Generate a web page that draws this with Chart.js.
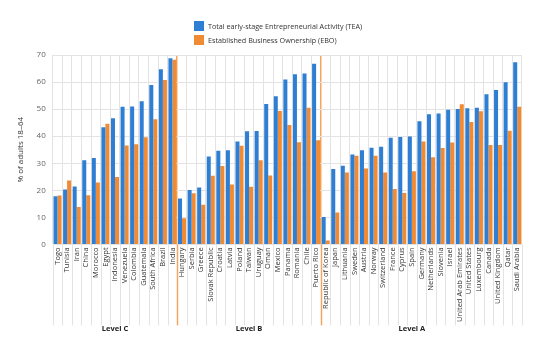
<!DOCTYPE html>
<html>
<head>
<meta charset="utf-8">
<script src="https://cdn.jsdelivr.net/npm/chart.js@4"></script>
<style>
  body { margin: 0; background: #fff; }
  #wrap { position: relative; width: 550px; height: 338px; }
  #legend { position: absolute; left: 194px; top: 19px; font: 7.2px 'Open Sans', sans-serif; color: #333; }
  .item { display: flex; align-items: center; height: 14px; }
  .box { width: 10px; height: 10px; margin-right: 4px; }
</style>
</head>
<body>
<div id="wrap">
  <canvas id="chart"></canvas>
  <div id="legend"></div>
</div>
<script>
// Data
const countries = ['Togo', 'Tunisia', 'Iran', 'China', 'Morocco', 'Egypt', 'Indonesia', 'Venezuela', 'Colombia',
  'Guatemala', 'South Africa', 'Brazil', 'India',
  'Hungary', 'Serbia', 'Greece', 'Slovak Republic', 'Croatia', 'Latvia', 'Poland', 'Taiwan', 'Uruguay', 'Oman',
  'Mexico', 'Panama', 'Romania', 'Chile', 'Puerto Rico',
  'Republic of Korea', 'Japan', 'Lithuania', 'Sweden', 'Austria', 'Norway', 'Switzerland', 'France', 'Cyprus',
  'Spain', 'Germany', 'Netherlands', 'Slovenia', 'Israel', 'United Arab Emirates', 'United States', 'Luxembourg',
  'Canada', 'United Kingdom', 'Qatar', 'Saudi Arabia'];

const tea = [17.8, 20.3, 21.4, 31.1, 31.9, 43.3, 46.6, 50.9, 51.0, 52.9, 58.9, 64.7, 68.8,
  17.0, 20.1, 21.0, 32.5, 34.6, 34.8, 38.0, 41.8, 41.9, 51.9, 54.8, 60.9, 62.9, 63.2, 66.8,
  10.1, 27.9, 29.1, 33.2, 34.8, 35.7, 36.1, 39.4, 39.7, 39.9, 45.5, 48.1, 48.4, 49.8, 50.0, 50.3, 50.5,
  55.5, 57.1, 59.9, 67.3];

const ebo = [18.1, 23.6, 13.8, 18.2, 22.9, 44.6, 24.9, 36.6, 37.0, 39.6, 46.3, 60.8, 68.2,
  9.7, 18.9, 14.7, 25.4, 29.0, 22.1, 36.5, 21.3, 31.1, 25.5, 49.3, 44.1, 37.8, 50.5, 38.5,
  1.4, 11.8, 26.6, 32.8, 28.1, 32.8, 26.6, 20.5, 19.0, 27.0, 38.0, 32.2, 35.6, 37.7, 51.8, 45.2, 49.2,
  36.7, 36.7, 42.0, 50.9];

const seriesNames = ['Total early-stage Entrepreneurial Activity (TEA)', 'Established Business Ownership (EBO)'];
const yTicks = [0, 10, 20, 30, 40, 50, 60, 70];
const levelNames = ['Level C', 'Level B', 'Level A'];
const levelCenters = [6, 20, 37];      // category index under which each level label sits
const separators = [13, 28];          // first category of each new level

const BLUE = '#2e7fd3';
const ORANGE = '#f08a33';
const SEP = '#f3a562';
const GRID = '#e3e3e3';
const FONT = "'Open Sans', sans-serif";

// html legend
document.getElementById('legend').innerHTML = seriesNames.map((name, i) =>
  `<div class="item"><span class="box" style="background:${i ? ORANGE : BLUE}"></span>${name}</div>`).join('');

// category boundary lines carried down through the label area, plus level names
const levelLabels = {
  id: 'levelLabels',
  beforeDatasetsDraw(chart) {
    const x = chart.scales.x;
    const ctx = chart.ctx;
    const half = (x.getPixelForValue(1) - x.getPixelForValue(0)) / 2;
    ctx.save();
    for (let i = 0; i <= countries.length; i++) {
      const px = Math.round(x.getPixelForValue(i) - half) + 0.5;
      const sep = separators.includes(i);
      ctx.strokeStyle = sep ? SEP : GRID;
      ctx.lineWidth = sep ? 1.5 : 1;
      ctx.beginPath();
      ctx.moveTo(px, x.top);
      ctx.lineTo(px, x.top + 81);
      ctx.stroke();
    }
    ctx.restore();
  },
  afterDraw(chart) {
    const x = chart.scales.x;
    const ctx = chart.ctx;
    ctx.save();
    ctx.font = `bold 7.5px ${FONT}`;
    ctx.fillStyle = '#222';
    ctx.textAlign = 'center';
    ctx.textBaseline = 'middle';
    levelNames.forEach((name, i) => {
      ctx.fillText(name, x.getPixelForValue(levelCenters[i]), x.top + 84);
    });
    ctx.restore();
  }
};

const sepColor = ctx => separators.includes(ctx.index) ? SEP : GRID;
const sepWidth = ctx => separators.includes(ctx.index) ? 1.5 : 1;

new Chart(document.getElementById('chart'), {
  type: 'bar',
  data: {
    labels: countries,
    datasets: [
      { label: seriesNames[0], data: tea, backgroundColor: BLUE },
      { label: seriesNames[1], data: ebo, backgroundColor: ORANGE }
    ]
  },
  options: {
    responsive: true,
    maintainAspectRatio: false,
    animation: false,
    layout: { padding: { top: 55, right: 28, bottom: 13, left: 12 } },
    datasets: { bar: { categoryPercentage: 0.84, barPercentage: 1.0 } },
    plugins: {
      legend: { display: false },
      tooltip: { enabled: false }
    },
    scales: {
      x: {
        grid: { offset: true, color: sepColor, lineWidth: sepWidth, drawTicks: false },
        border: { display: false },
        ticks: {
          autoSkip: false, minRotation: 90, maxRotation: 90, padding: 3,
          color: '#333', font: { family: FONT, size: 7.5 }
        }
      },
      y: {
        min: 0, max: 70,
        afterBuildTicks: axis => { axis.ticks = yTicks.map(v => ({ value: v })); },
        grid: { color: GRID, drawTicks: false },
        border: { display: false },
        ticks: { padding: 7, color: '#666', font: { family: FONT, size: 8 } },
        title: { display: true, text: '% of adults 18–64', color: '#333', font: { family: FONT, size: 8 }, padding: 4 }
      }
    }
  },
  plugins: [levelLabels]
});
</script>
</body>
</html>
